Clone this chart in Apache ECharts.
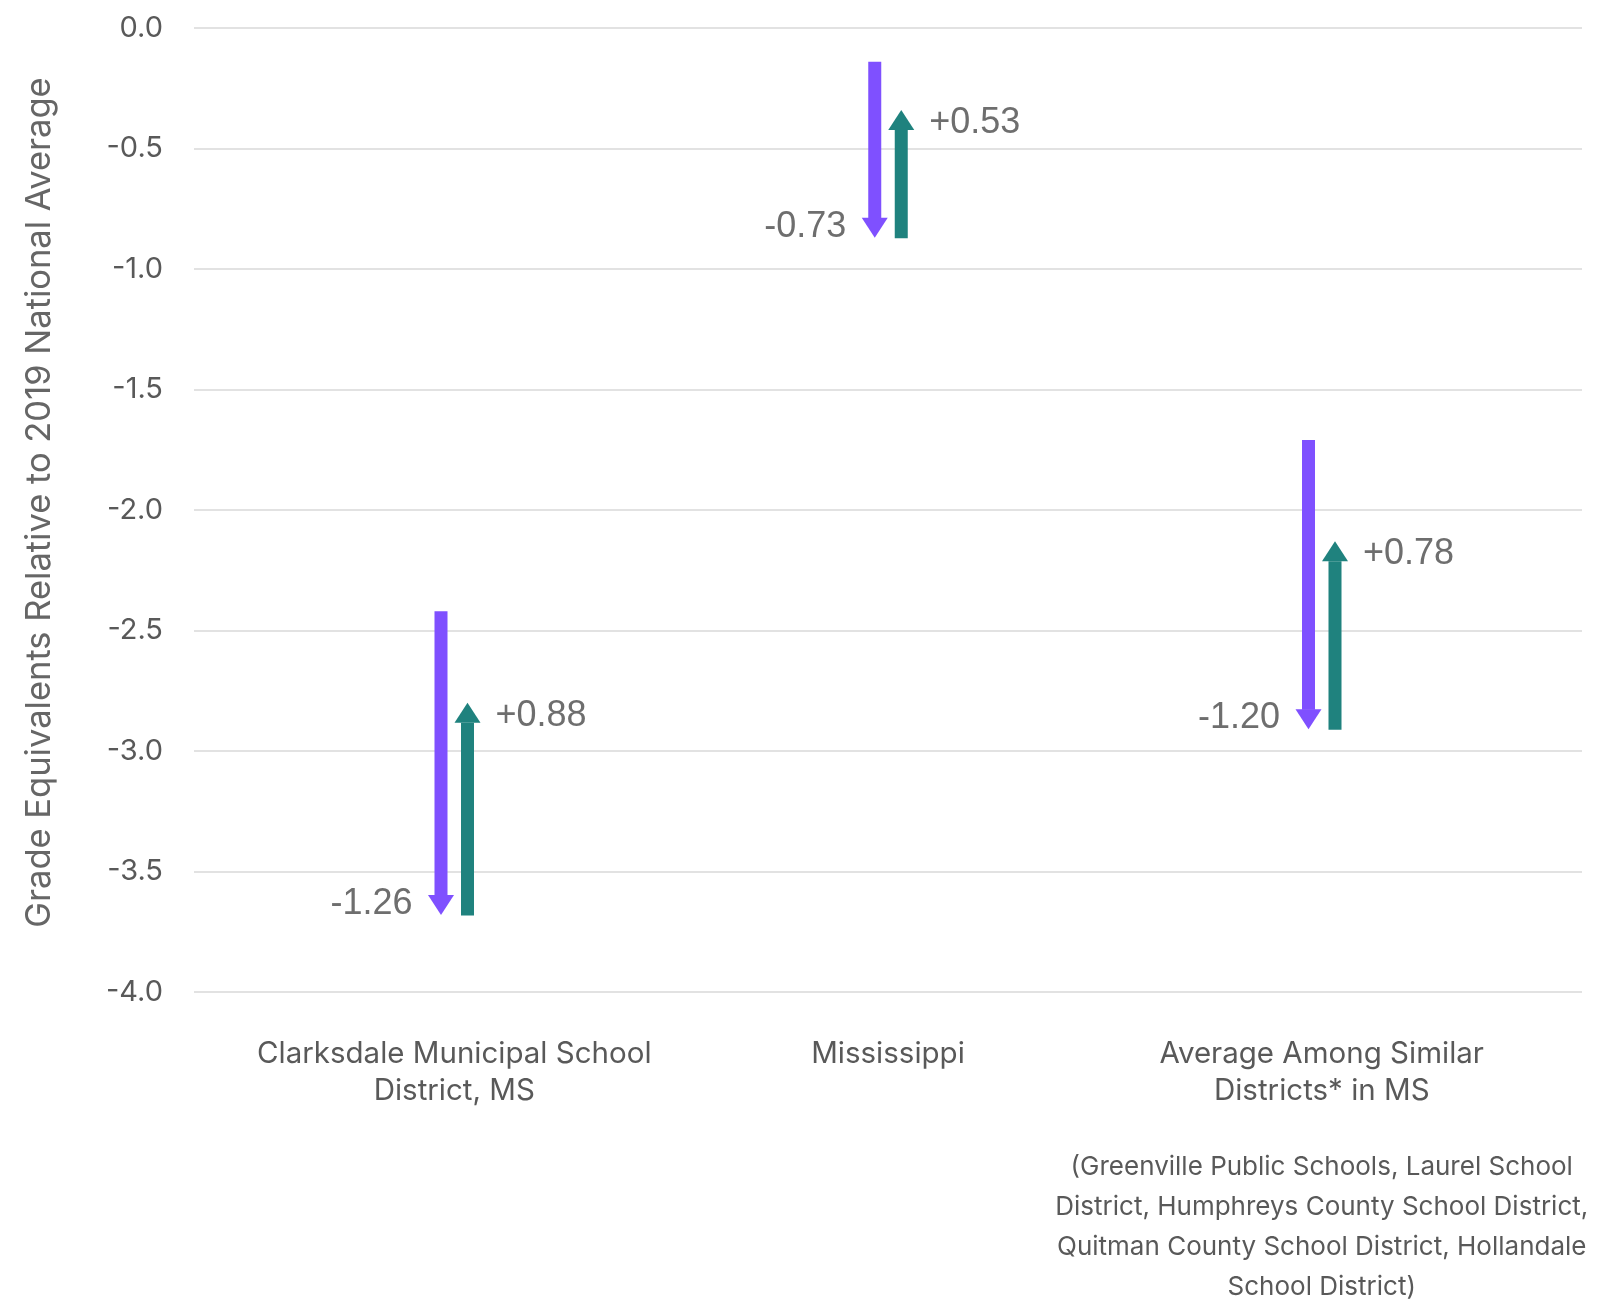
<!DOCTYPE html>
<html>
<head>
<meta charset="utf-8">
<script src="https://cdn.jsdelivr.net/npm/echarts@6/dist/echarts.min.js"></script>
<style>
  html, body { margin: 0; padding: 0; background: #ffffff; }
  #chart { width: 1600px; height: 1307px; }
</style>
</head>
<body>
<div id="chart"></div>
<script>
// ---- data ----
const categories = [
  'Clarksdale Municipal School\nDistrict, MS',
  'Mississippi',
  'Average Among Similar\nDistricts* in MS'
];
const footnoteLines = [
  '(Greenville Public Schools, Laurel School',
  'District, Humphreys County School District,',
  'Quitman County School District, Hollandale',
  'School District)'
];
const startValues = [-2.42, -0.14, -1.71];   // starting level
const declineValues = [-1.26, -0.73, -1.20]; // purple arrow (drop)
const recoveryValues = [0.88, 0.53, 0.78];   // teal arrow (rebound)
const yTicks = { min: -4.0, max: 0.0, interval: 0.5 };

// ---- derived series data ----
const declineData = categories.map((c, i) => [i, startValues[i], +(startValues[i] + declineValues[i]).toFixed(2), declineValues[i]]);
const recoveryData = categories.map((c, i) => {
  const from = +(startValues[i] + declineValues[i]).toFixed(2);
  return [i, from, +(from + recoveryValues[i]).toFixed(2), recoveryValues[i]];
});

const PURPLE = '#7F50FF';
const TEAL = '#1F827E';
const LABEL_COLOR = '#6e6e6e';
const FONT = 'Inter, "Noto Sans", sans-serif';

function makeArrowRenderer(color, offset, side) {
  return function (params, api) {
    const x = api.value(0);
    const y0 = api.value(1);
    const y1 = api.value(2);
    const delta = api.value(3);
    const p0 = api.coord([x, y0]);
    const p1 = api.coord([x, y1]);
    const cx = p0[0] + offset;
    const dir = p1[1] > p0[1] ? 1 : -1; // 1 = downward
    const headH = 20, headW = 26, shaftW = 13;
    const baseY = p1[1] - dir * headH;
    const shaftTop = Math.min(p0[1], baseY);
    const shaftH = Math.abs(baseY - p0[1]);
    const text = (delta > 0 ? '+' : '') + delta.toFixed(2);
    const labelX = side === 'left' ? cx - 28.5 : cx + 28;
    const labelY = dir === 1 ? p1[1] - 11 : p1[1] + 13;
    return {
      type: 'group',
      children: [
        { type: 'rect', shape: { x: cx - shaftW / 2, y: shaftTop, width: shaftW, height: shaftH + 0.5 }, style: { fill: color } },
        { type: 'polygon', shape: { points: [[cx - headW / 2, baseY], [cx + headW / 2, baseY], [cx, p1[1]]] }, style: { fill: color } },
        { type: 'text', x: labelX, y: labelY, style: {
            text: text, fill: LABEL_COLOR, font: '36px "Liberation Sans", Arial, sans-serif',
            align: side === 'left' ? 'right' : 'left', verticalAlign: 'middle' } }
      ]
    };
  };
}

const chart = echarts.init(document.getElementById('chart'), null, { renderer: 'canvas' });
chart.setOption({
  backgroundColor: '#ffffff',
  animation: false,
  grid: { left: 194, right: 18, top: 28, bottom: 305, containLabel: false },
  xAxis: {
    type: 'value',
    min: -0.6,
    max: 2.6,
    axisLine: { show: false },
    axisTick: { show: false },
    splitLine: { show: false },
    axisLabel: {
      customValues: [0, 1, 2],
      margin: 44,
      color: '#595959',
      fontFamily: FONT,
      fontSize: 29.5,
      lineHeight: 37,
      formatter: function (v) {
        const i = Math.round(v);
        let s = categories[i] || '';
        if (i === 2) {
          s += '\n{sp|}\n' + footnoteLines.map(l => '{n|' + l + '}').join('\n');
        }
        return s;
      },
      rich: {
        sp: { lineHeight: 37, fontSize: 10 },
        n: { fontSize: 26, lineHeight: 40, color: '#595959', fontFamily: FONT }
      }
    }
  },
  yAxis: {
    type: 'value',
    min: yTicks.min,
    max: yTicks.max,
    interval: yTicks.interval,
    name: 'Grade Equivalents Relative to 2019 National Average',
    nameLocation: 'middle',
    nameGap: 137,
    nameTextStyle: { color: '#666666', fontSize: 34.5, fontFamily: FONT, padding: [0, 0, 0, 15] },
    axisLine: { show: false },
    axisTick: { show: false },
    splitLine: { show: true, lineStyle: { color: '#e2e2e2', width: 2 } },
    axisLabel: {
      margin: 31,
      color: '#595959',
      fontSize: 29,
      fontFamily: FONT,
      formatter: v => v.toFixed(1)
    }
  },
  series: [
    { type: 'custom', name: 'Decline', renderItem: makeArrowRenderer(PURPLE, -13.25, 'left'), data: declineData, clip: false, z: 3 },
    { type: 'custom', name: 'Recovery', renderItem: makeArrowRenderer(TEAL, 13.25, 'right'), data: recoveryData, clip: false, z: 3 }
  ]
});
</script>
</body>
</html>
